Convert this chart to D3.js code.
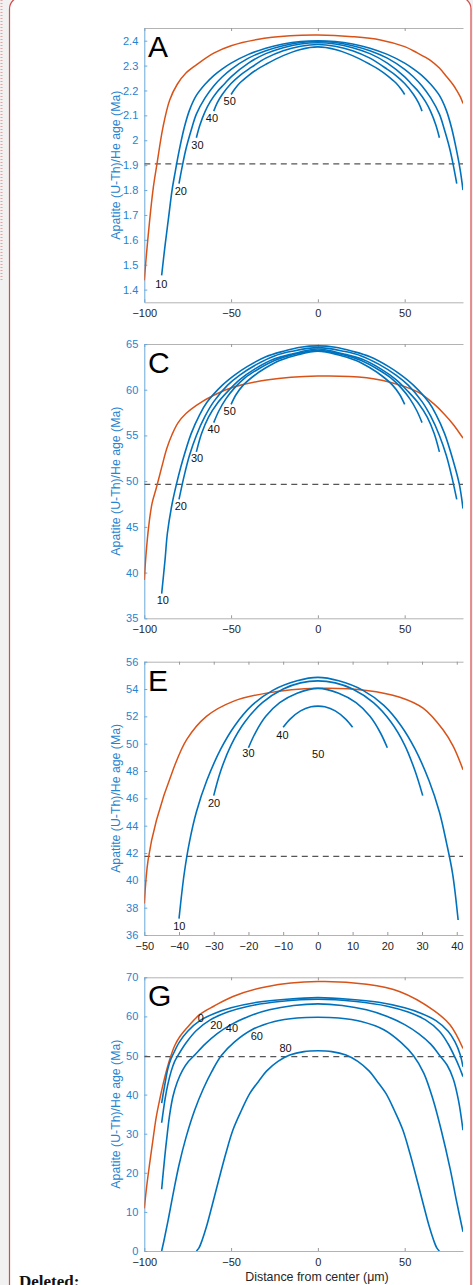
<!DOCTYPE html>
<html>
<head>
<meta charset="utf-8">
<script src="https://cdn.jsdelivr.net/npm/d3@7"></script>
<style>
    body { margin: 0; background: #f1f1f1; }
    svg { display: block; font-family: "Liberation Sans", Arial, sans-serif; }
</style>
</head>
<body>
<svg id="fig" width="473" height="1285"></svg>
<script>
// ---- tick values ----
let xTicksWide = [-100, -50, 0, 50];
let xTicksNarrow = [-50, -40, -30, -20, -10, 0, 10, 20, 30, 40];
let yTicksA = [1.4, 1.5, 1.6, 1.7, 1.8, 1.9, 2, 2.1, 2.2, 2.3, 2.4];
let yTicksC = [35, 40, 45, 50, 55, 60, 65];
let yTicksE = [36, 38, 40, 42, 44, 46, 48, 50, 52, 54, 56];
let yTicksG = [0, 10, 20, 30, 40, 50, 60, 70];

// ---- panel A ----
let aOrange = [[-100, 1.437], [-98, 1.6], [-95, 1.8], [-92.7, 1.905], [-89.2, 2.054], [-85.4, 2.161], [-81, 2.225], [-76, 2.27], [-70, 2.303], [-60, 2.35], [-50, 2.38], [-35, 2.405], [-16, 2.42], [0, 2.423], [20, 2.416], [36, 2.403], [50, 2.376], [57, 2.352], [64.6, 2.322], [70, 2.29], [74.2, 2.255], [78, 2.222], [80, 2.2], [82, 2.175], [83.6, 2.148]];
let aBlue10 = [[-90, 1.457], [-88, 1.58], [-86, 1.69], [-84, 1.8], [-82, 1.88], [-80, 1.955], [-77, 2.05], [-74, 2.12], [-70, 2.18], [-65, 2.225], [-60, 2.26], [-55, 2.287], [-50, 2.31], [-40, 2.345], [-30, 2.37], [-20, 2.387], [-10, 2.397], [0, 2.4], [10, 2.397], [20, 2.387], [30, 2.37], [40, 2.345], [50, 2.31], [55, 2.287], [60, 2.26], [65, 2.225], [70, 2.18], [74, 2.12], [77, 2.05], [80, 1.955], [82, 1.88], [83.6, 1.8]];
let aBlue20 = [[-80, 1.826], [-78, 1.9], [-76, 1.965], [-73, 2.04], [-70, 2.105], [-65, 2.17], [-60, 2.218], [-55, 2.255], [-50, 2.285], [-40, 2.33], [-30, 2.36], [-20, 2.38], [-10, 2.393], [0, 2.397], [10, 2.393], [20, 2.38], [30, 2.36], [40, 2.33], [50, 2.285], [55, 2.255], [60, 2.218], [65, 2.17], [70, 2.105], [73, 2.04], [76, 1.965], [78, 1.9], [80, 1.826]];
let aBlue30 = [[-70, 2.01], [-68, 2.06], [-65, 2.115], [-62, 2.155], [-58, 2.195], [-54, 2.225], [-50, 2.255], [-40, 2.31], [-30, 2.348], [-20, 2.372], [-10, 2.387], [0, 2.392], [10, 2.387], [20, 2.372], [30, 2.348], [40, 2.31], [50, 2.255], [54, 2.225], [58, 2.195], [62, 2.155], [65, 2.115], [68, 2.06], [70, 2.01]];
let aBlue40 = [[-60, 2.117], [-58, 2.15], [-55, 2.185], [-50, 2.228], [-45, 2.26], [-40, 2.285], [-30, 2.33], [-20, 2.36], [-10, 2.378], [0, 2.385], [10, 2.378], [20, 2.36], [30, 2.33], [40, 2.285], [45, 2.26], [50, 2.228], [55, 2.185], [58, 2.15], [60, 2.117]];
let aBlue50 = [[-50, 2.184], [-48, 2.205], [-45, 2.23], [-40, 2.26], [-35, 2.285], [-30, 2.305], [-20, 2.34], [-10, 2.365], [0, 2.375], [10, 2.365], [20, 2.34], [30, 2.305], [35, 2.285], [40, 2.26], [45, 2.23], [48, 2.205], [50, 2.184]];
let aLabels = ["10", "20", "30", "40", "50"];
let aLabelPos = [[-90.2, 1.424], [-79, 1.798], [-69.4, 1.982], [-61, 2.088], [-50.8, 2.159]];

// ---- panel C ----
let cOrange = [[-100, 39.2], [-99, 42], [-97.5, 45], [-95.5, 47.6], [-93, 49.3], [-90, 51.5], [-87, 53.6], [-84, 55.1], [-80.5, 56.4], [-76, 57.4], [-70, 58.3], [-60, 59.4], [-48.9, 60.26], [-29.6, 61.06], [0, 61.5], [28.1, 61.3], [47.3, 60.5], [58, 59.7], [66.5, 58.5], [73, 57.3], [78, 56.2], [83.6, 54.7]];
let cBlue10 = [[-90, 37.7], [-88, 41.5], [-86.7, 44.3], [-84, 47.5], [-81.5, 49.65], [-78, 52.2], [-73, 55.2], [-68, 57.3], [-64, 58.6], [-55, 60.5], [-48, 61.6], [-41, 62.5], [-30, 63.6], [-20, 64.2], [-10, 64.65], [0, 64.8], [10, 64.65], [20, 64.2], [30, 63.6], [41, 62.5], [48, 61.6], [55, 60.5], [64, 58.6], [68, 57.3], [73, 55.2], [78, 52.2], [81.5, 49.65], [83.6, 47]];
let cBlue20 = [[-80, 48], [-77, 50.6], [-74, 52.8], [-70, 55], [-65, 57.1], [-60, 58.7], [-52, 60.5], [-45, 61.6], [-35, 62.8], [-25, 63.7], [-15, 64.2], [0, 64.6], [15, 64.2], [25, 63.7], [35, 62.8], [45, 61.6], [52, 60.5], [60, 58.7], [65, 57.1], [70, 55], [74, 52.8], [77, 50.6], [80, 48]];
let cBlue30 = [[-70, 53.2], [-67, 55.2], [-63, 57], [-58, 58.5], [-52, 59.8], [-45, 61.1], [-36, 62.3], [-26, 63.3], [-15, 63.9], [0, 64.45], [15, 63.9], [26, 63.3], [36, 62.3], [45, 61.1], [52, 59.8], [58, 58.5], [63, 57], [67, 55.2], [70, 53.2]];
let cBlue40 = [[-60, 56.4], [-57, 57.7], [-53, 59], [-48, 60.2], [-42, 61.3], [-34, 62.3], [-25, 63.2], [-15, 63.8], [0, 64.3], [15, 63.8], [25, 63.2], [34, 62.3], [42, 61.3], [48, 60.2], [53, 59], [57, 57.7], [60, 56.4]];
let cBlue50 = [[-50, 58.4], [-47, 59.5], [-43, 60.5], [-37, 61.5], [-30, 62.4], [-22, 63.2], [-12, 63.8], [0, 64.2], [12, 63.8], [22, 63.2], [30, 62.4], [37, 61.5], [43, 60.5], [47, 59.5], [50, 58.4]];
let cLabels = ["10", "20", "30", "40", "50"];
let cLabelPos = [[-89.3, 37], [-79, 47.3], [-69.6, 52.5], [-60, 55.7], [-50.8, 57.7]];

// ---- panel E ----
let eOrange = [[-50, 38.3], [-48.9, 41.5], [-46.5, 44.4], [-41.7, 48.1], [-37.8, 50.3], [-32.1, 52], [-24.4, 53.1], [-14.8, 53.7], [0, 54.05], [14, 53.9], [23.6, 53.4], [30.3, 52.6], [36.1, 51], [39, 49.8], [41.8, 48.1]];
let eBlue10 = [[-40, 37.2], [-38.5, 40.5], [-37, 42.8], [-35, 45], [-32, 47.3], [-28, 49.6], [-24, 51.3], [-19, 52.8], [-13, 53.9], [-6, 54.6], [0, 54.85], [6, 54.6], [13, 53.9], [19, 52.8], [24, 51.3], [28, 49.6], [32, 47.3], [35, 45], [37, 42.8], [38.8, 40.5], [40.4, 37.1]];
let eBlue20 = [[-30, 46.2], [-28, 48], [-25, 49.9], [-21, 51.6], [-16, 53], [-10, 54], [-5, 54.45], [0, 54.6], [5, 54.45], [10, 54], [16, 53], [21, 51.6], [25, 49.9], [28, 48], [30.2, 46.2]];
let eBlue30 = [[-20, 49.7], [-18, 50.8], [-15, 52], [-11, 53], [-6, 53.7], [0, 54.05], [6, 53.7], [11, 53], [15, 52], [18, 50.8], [20, 49.7]];
let eBlue40 = [[-10, 51.2], [-8, 51.8], [-5, 52.4], [-2, 52.7], [0, 52.75], [2, 52.7], [5, 52.4], [8, 51.8], [10, 51.2]];
let eBlue50 = [[0, 49.85]];
let eLabels = ["10", "20", "30", "40", "50"];
let eLabelPos = [[-39.9, 36.67], [-29.9, 45.64], [-20, 49.3], [-10.2, 50.64], [0.1, 49.25]];

// ---- panel G ----
let gOrange = [[-100, 10.9], [-98.5, 17], [-96.9, 22.4], [-95, 28.5], [-93.1, 34.3], [-91, 39], [-89, 43], [-87, 46.5], [-85, 49.5], [-82.5, 52.5], [-79.6, 54.8], [-75, 57.3], [-68, 60.5], [-60, 62.6], [-48.9, 65.1], [-29.6, 67.6], [0, 68.9], [28.1, 68.2], [47.3, 66.3], [66.5, 61.6], [76.2, 57.8], [83.6, 51.8]];
let gBlue0 = [[-90, 37.8], [-89, 40.5], [-88, 43], [-86.5, 46.5], [-84.5, 49.3], [-83.5, 50.2], [-80, 53.3], [-75, 56.2], [-68, 58.9], [-60, 60.7], [-50, 62.2], [-35, 63.6], [-18, 64.4], [0, 64.8], [18, 64.4], [35, 63.6], [50, 62.2], [60, 60.7], [68, 58.9], [75, 56.2], [79, 53.5], [82, 50.2], [83.6, 47.1]];
let gBlue20 = [[-90, 32.8], [-89, 36], [-88, 39], [-86.5, 42.5], [-84.5, 46], [-82.5, 48.5], [-80.6, 50], [-76, 53.2], [-70, 56.4], [-62, 59.1], [-52, 61.1], [-40, 62.6], [-22, 63.8], [0, 64.4], [22, 63.8], [40, 62.6], [52, 61.1], [62, 59.1], [70, 56.2], [75, 53], [79, 49.5], [81.5, 47], [83.6, 44.6]];
let gBlue40 = [[-90, 15.8], [-89, 20.5], [-88, 25], [-87, 29], [-85.5, 34.5], [-83.5, 39.5], [-81, 43.2], [-78, 46.2], [-74.5, 48.5], [-71, 50.1], [-65, 52.9], [-58, 55.6], [-50, 57.9], [-40, 60], [-28, 61.7], [-14, 62.8], [0, 63.2], [14, 62.8], [28, 61.7], [40, 60], [50, 57.9], [58, 55.6], [65, 52.9], [70.2, 50], [74.5, 47.5], [78, 44], [81, 38.5], [83.6, 30.9]];
let gBlue60 = [[-90, 0], [-88.5, 3], [-86, 8.5], [-83, 15.5], [-80, 22], [-76, 29], [-71, 36], [-66, 41.5], [-61, 46], [-55.6, 50], [-48, 53.5], [-38, 56.6], [-25, 58.7], [-12, 59.6], [0, 59.8], [12, 59.6], [25, 58.7], [38, 56.6], [48, 53.3], [55, 50], [61, 45.5], [66.5, 38.5], [71, 31], [76.2, 21], [80, 12.5], [83.6, 4.9]];
let gBlue80 = [[-70, 0], [-68.5, 0.8], [-66.5, 3], [-64, 6.5], [-61, 11.5], [-57.5, 17.5], [-53, 25], [-48.9, 31], [-44, 36], [-39.2, 40.3], [-34, 43.5], [-29.6, 46], [-23, 48.5], [-16.2, 50.1], [-8, 51], [0, 51.2], [8, 51], [16.2, 50.1], [23, 48.5], [29.6, 46], [34, 43.5], [39.2, 40.3], [44, 36], [48.9, 31], [53, 25], [57.5, 17.5], [61, 11.5], [64, 6.5], [66.5, 3], [68.5, 0.8], [70, 0]];
let gLabels = ["0", "20", "40", "60", "80"];
let gLabelPos = [[-67.5, 59.5], [-58.5, 57.8], [-49.5, 57.1], [-35.2, 55], [-18.6, 52]];

// dashed reference ages
let dashA = 1.905, dashC = 49.65, dashE = 41.75, dashG = 49.7;

const BLUE = "#0072BD", ORANGE = "#D95319";
const AXBLUE = "#2683cf";
const plotLeft = 144.3, plotRight = 463;

let svg = d3.select("#fig");

// page frame (document screenshot look)
svg.append("rect").attr("width", 473).attr("height", 1285).attr("fill", "#f1f1f1");
svg.append("rect")
    .attr("x", 9.5).attr("y", -3).attr("width", 461.5).attr("height", 1300)
    .attr("rx", 12)
    .attr("fill", "#fff").attr("stroke", "#d64a4a").attr("stroke-width", 1.2);
svg.append("line")
    .attr("x1", 1.5).attr("x2", 1.5).attr("y1", 0).attr("y2", 280)
    .attr("stroke", "#e6a2a2").attr("stroke-width", 2).attr("stroke-dasharray", "1,2");
svg.append("text")
    .attr("x", 19).attr("y", 1287)
    .attr("font-family", "'Liberation Serif', 'Times New Roman', serif")
    .attr("font-weight", "bold").attr("font-size", 17).attr("fill", "#111")
    .text("Deleted:");

let panels = [
    {id: "A", top: 28, bottom: 302.3, xd: [-100, 83.6], yd: [1.349, 2.451], xt: xTicksWide, yt: yTicksA,
        orange: aOrange, blue: [aBlue10, aBlue20, aBlue30, aBlue40, aBlue50], labels: aLabels, labelPos: aLabelPos, dash: dashA},
    {id: "C", top: 344, bottom: 618.3, xd: [-100, 83.6], yd: [35, 65], xt: xTicksWide, yt: yTicksC,
        orange: cOrange, blue: [cBlue10, cBlue20, cBlue30, cBlue40, cBlue50], labels: cLabels, labelPos: cLabelPos, dash: dashC},
    {id: "E", top: 661.7, bottom: 935, xd: [-50, 41.8], yd: [36, 56], xt: xTicksNarrow, yt: yTicksE,
        orange: eOrange, blue: [eBlue10, eBlue20, eBlue30, eBlue40, eBlue50], labels: eLabels, labelPos: eLabelPos, dash: dashE},
    {id: "G", top: 977.3, bottom: 1251, xd: [-100, 83.6], yd: [0, 70], xt: xTicksWide, yt: yTicksG,
        orange: gOrange, blue: [gBlue0, gBlue20, gBlue40, gBlue60, gBlue80], labels: gLabels, labelPos: gLabelPos, dash: dashG}
];

panels.forEach(function (p) {
    let x = d3.scaleLinear().domain(p.xd).range([plotLeft, plotRight]);
    let y = d3.scaleLinear().domain(p.yd).range([p.bottom, p.top]);
    let g = svg.append("g").attr("class", "panel-" + p.id);

    g.append("clipPath").attr("id", "clip" + p.id)
        .append("rect")
        .attr("x", plotLeft).attr("y", p.top)
        .attr("width", plotRight - plotLeft).attr("height", p.bottom - p.top);

    // bottom axis
    let xb = g.append("g")
        .attr("transform", "translate(0," + p.bottom + ")")
        .call(d3.axisBottom(x).tickValues(p.xt).tickSizeInner(-3).tickSizeOuter(0).tickPadding(7)
            .tickFormat(d3.format("d")));
    xb.select(".domain").attr("stroke", "#b3b3b3");
    xb.selectAll(".tick line").attr("stroke", "#999");
    xb.selectAll("text").attr("fill", "#262626").attr("font-size", 11)
        .attr("font-family", "'Liberation Sans', Arial, sans-serif");

    // top box edge
    let xt = g.append("g")
        .attr("transform", "translate(0," + p.top + ")")
        .call(d3.axisTop(x).tickValues(p.xt).tickSizeInner(-3).tickSizeOuter(0).tickFormat(""));
    xt.select(".domain").attr("stroke", "#b3b3b3");
    xt.selectAll(".tick line").attr("stroke", "#999");

    // left axis (blue)
    let yl = g.append("g")
        .attr("transform", "translate(" + plotLeft + ",0)")
        .call(d3.axisLeft(y).tickValues(p.yt).tickSizeInner(-3).tickSizeOuter(0).tickPadding(6)
            .tickFormat(d3.format("~g")));
    yl.select(".domain").attr("stroke", "#6aa9dc");
    yl.selectAll(".tick line").attr("stroke", "#6aa9dc");
    yl.selectAll("text").attr("fill", AXBLUE).attr("font-size", 11)
        .attr("font-family", "'Liberation Sans', Arial, sans-serif");

    g.append("text")
        .attr("transform", "translate(116," + ((p.top + p.bottom) / 2) + ") rotate(-90)")
        .attr("text-anchor", "middle").attr("dominant-baseline", "central")
        .attr("font-size", 12.3).attr("fill", AXBLUE)
        .text("Apatite (U-Th)/He age (Ma)");

    let plot = g.append("g").attr("clip-path", "url(#clip" + p.id + ")");

    plot.append("line")
        .attr("x1", plotLeft).attr("x2", plotRight)
        .attr("y1", y(p.dash)).attr("y2", y(p.dash))
        .attr("stroke", "#555").attr("stroke-width", 1.3).attr("stroke-dasharray", "6,4.5");

    let line = d3.line()
        .x(function (d) { return x(d[0]); })
        .y(function (d) { return y(d[1]); })
        .curve(d3.curveCatmullRom.alpha(0.5));

    plot.append("path").datum(p.orange)
        .attr("d", line).attr("fill", "none")
        .attr("stroke", ORANGE).attr("stroke-width", 1.5);

    p.blue.forEach(function (c) {
        if (c.length === 1) {
            // single-point curve shown as a small marker
            plot.append("path")
                .attr("d", d3.symbol().type(d3.symbolPlus).size(14)())
                .attr("transform", "translate(" + x(c[0][0]) + "," + y(c[0][1]) + ")")
                .attr("fill", BLUE);
            return;
        }
        plot.append("path").datum(c)
            .attr("d", line).attr("fill", "none")
            .attr("stroke", BLUE).attr("stroke-width", 1.6);
    });

    g.selectAll(".clabel").data(p.labels).enter().append("text")
        .attr("x", function (d, i) { return x(p.labelPos[i][0]); })
        .attr("y", function (d, i) { return y(p.labelPos[i][1]); })
        .attr("text-anchor", "middle").attr("dominant-baseline", "central")
        .attr("font-size", 11).attr("fill", "#111")
        .text(function (d) { return d; });

    g.append("text")
        .attr("x", 148).attr("y", p.top + 29)
        .attr("font-size", 30).attr("fill", "#000")
        .text(p.id);
});

svg.append("text")
    .attr("x", 317).attr("y", 1281)
    .attr("text-anchor", "middle")
    .attr("font-size", 12.4).attr("fill", "#262626")
    .text("Distance from center (\u03bcm)");
</script>
</body>
</html>
